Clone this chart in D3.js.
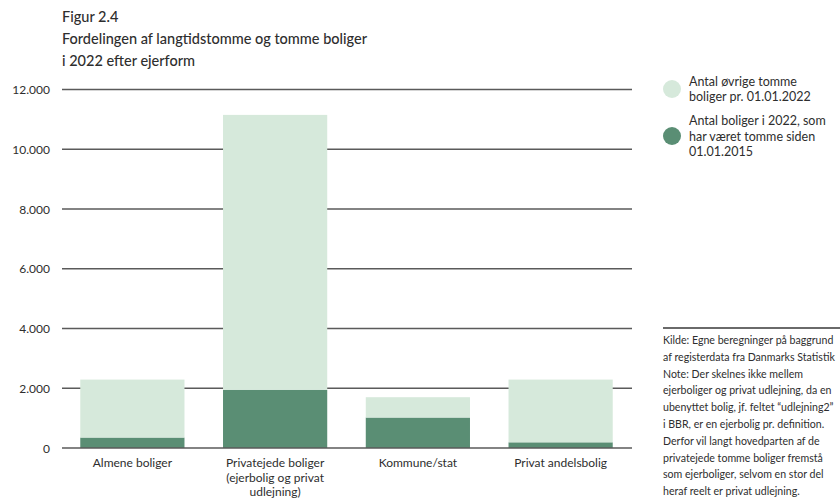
<!DOCTYPE html>
<html>
<head>
<meta charset="utf-8">
<script src="https://cdn.jsdelivr.net/npm/d3@7"></script>
<style>
  body { margin: 0; background: #fff; }
  svg { display: block; font-family: Lato, "Open Sans", sans-serif; }
</style>
</head>
<body>
<div id="chart"></div>
<script>
// Data / værdier
const categories = ["Almene boliger", "Privatejede boliger", "Kommune/stat", "Privat andelsbolig"];
const categoryLines = [
    ["Almene boliger"],
    ["Privatejede boliger", "(ejerbolig og privat", "udlejning)"],
    ["Kommune/stat"],
    ["Privat andelsbolig"]
];
const tommeSiden2015 = [350, 1950, 1020, 190];
const oevrigeTomme = [1940, 9200, 680, 2100];
const yTicks = [0, 2000, 4000, 6000, 8000, 10000, 12000];
const titleLines = ["Figur 2.4", "Fordelingen af langtidstomme og tomme boliger", "i 2022 efter ejerform"];
const legendLabels = [
    ["Antal øvrige tomme", "boliger pr. 01.01.2022"],
    ["Antal boliger i 2022, som", "har været tomme siden", "01.01.2015"]
];
const noteLines = [
    "Kilde: Egne beregninger på baggrund",
    "af registerdata fra Danmarks Statistik",
    "Note: Der skelnes ikke mellem",
    "ejerboliger og privat udlejning, da en",
    "ubenyttet bolig, jf. feltet \u201cudlejning2\u201d",
    "i BBR, er en ejerbolig pr. definition.",
    "Derfor vil langt hovedparten af de",
    "privatejede tomme boliger fremstå",
    "som ejerboliger, selvom en stor del",
    "heraf reelt er privat udlejning."
];

const width = 840, height = 498;
const colDark = "#5a8e74", colLight = "#d6e9db", gridCol = "#5a5a5a", textCol = "#2e2e2e";

const svg = d3.select("#chart").append("svg")
    .attr("width", width).attr("height", height);

// Titel
svg.append("g").selectAll("text").data(titleLines).enter().append("text")
    .attr("x", 62).attr("y", (d, i) => 22 + i * 22)
    .attr("font-size", "14.5px").attr("font-weight", 500).attr("fill", textCol).text(d => d);

// Skalaer
const x = d3.scaleBand().domain(categories).range([61, 632]).paddingInner(0.27).paddingOuter(0.135);
const y = d3.scaleLinear().domain([0, 12000]).range([448, 89.5]);

// Gitterlinjer
const grid = svg.append("g");
grid.selectAll("line").data(yTicks.filter(d => d > 0)).enter().append("line")
    .attr("x1", 62).attr("x2", 632)
    .attr("y1", d => y(d)).attr("y2", d => y(d))
    .attr("stroke", gridCol).attr("stroke-width", 1.6);

// Stablede søjler
const rows = categories.map((c, i) => ({ cat: c, dark: tommeSiden2015[i], light: oevrigeTomme[i] }));
const stack = d3.stack().keys(["dark", "light"])(rows);
const colors = { dark: colDark, light: colLight };
svg.append("g").selectAll("g").data(stack).enter().append("g")
    .attr("fill", s => colors[s.key])
    .selectAll("rect").data(s => s).enter().append("rect")
    .attr("x", d => x(d.data.cat))
    .attr("width", x.bandwidth())
    .attr("y", d => y(d[1]))
    .attr("height", d => y(d[0]) - y(d[1]));

// Nul-linje
svg.append("line").attr("x1", 62).attr("x2", 632)
    .attr("y1", y(0)).attr("y2", y(0))
    .attr("stroke", gridCol).attr("stroke-width", 1.6);

// Y-akse labels
svg.append("g").selectAll("text").data(yTicks).enter().append("text")
    .attr("x", 50).attr("y", d => y(d) + 4.5)
    .attr("text-anchor", "end").attr("font-size", "12px").attr("fill", textCol)
    .text(d => d3.format(",")(d).replace(/,/g, "."));

// Kategori labels
const catG = svg.append("g").selectAll("g").data(categories).enter().append("g")
    .attr("transform", d => `translate(${x(d) + x.bandwidth() / 2},467)`);
catG.selectAll("text").data((d, i) => categoryLines[i]).enter().append("text")
    .attr("y", (d, i) => i * 14.5)
    .attr("text-anchor", "middle").attr("font-size", "12px").attr("fill", textCol)
    .text(d => d);

// Legende
const legY = [89, 136];
const legCols = [colLight, colDark];
legendLabels.forEach((lines, i) => {
    const g = svg.append("g").attr("transform", `translate(672,${legY[i]})`);
    g.append("circle").attr("r", 9).attr("fill", legCols[i]);
    g.selectAll("text").data(lines).enter().append("text")
        .attr("x", 17)
        .attr("y", (d, j) => 4.5 + (j - (lines.length - 1) / 2) * 15.5)
        .attr("font-size", "12.5px").attr("fill", textCol).text(d => d);
});

// Note
svg.append("line").attr("x1", 663).attr("x2", 840).attr("y1", 328).attr("y2", 328)
    .attr("stroke", "#6a6a6a").attr("stroke-width", 2);
svg.append("g").selectAll("text").data(noteLines).enter().append("text")
    .attr("x", 663).attr("y", (d, i) => 344 + i * 16.8)
    .attr("font-size", "10.6px").attr("fill", textCol).text(d => d);
</script>
</body>
</html>
